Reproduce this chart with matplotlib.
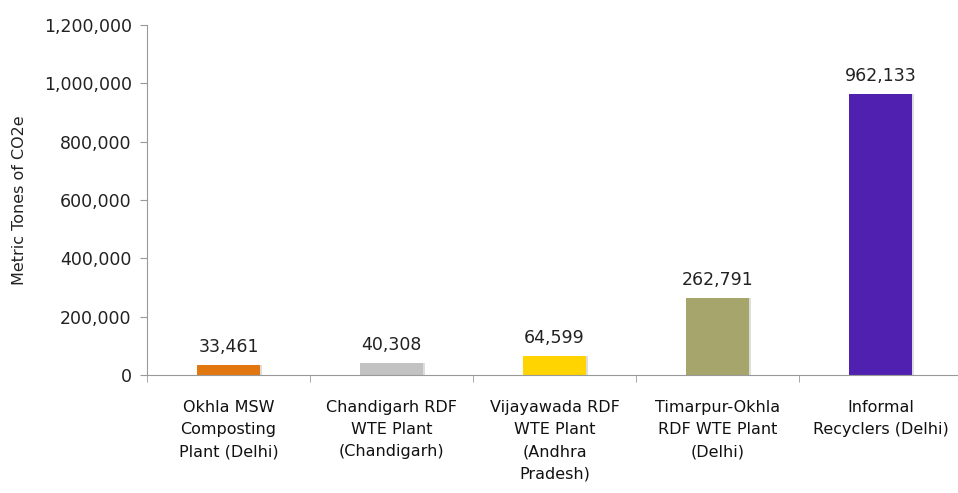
import matplotlib.pyplot as plt
from matplotlib.ticker import FuncFormatter, FixedLocator
import numpy as np

# chart data
categories = ['Okhla MSW\nComposting\nPlant (Delhi)',
              'Chandigarh RDF\nWTE Plant\n(Chandigarh)',
              'Vijayawada RDF\nWTE Plant\n(Andhra\nPradesh)',
              'Timarpur-Okhla\nRDF WTE Plant\n(Delhi)',
              'Informal\nRecyclers (Delhi)']
values = [33461, 40308, 64599, 262791, 962133]
colors = ['#E2770F', '#C2C2C2', '#FFD400', '#A6A56C', '#5021B0']

fig = plt.figure(figsize=(9.58, 4.93), dpi=100)
ax = fig.add_axes([147 / 958, 118 / 493, 815 / 958, 350 / 493])

x = np.arange(len(values))
# faint shadow behind bars
ax.bar(x + 0.012, values, width=0.39, color='#DDDDDD', zorder=1)
ax.bar(x, values, width=0.39, color=colors, zorder=2)

for xi, v in zip(x, values):
    ax.text(xi, v + 32000, f'{v:,}', ha='center', va='bottom',
            fontsize=12.5, color='#222222')

ax.set_xlim(-0.5, len(values) - 0.5)
ax.set_ylim(0, 1200000)
ax.set_yticks(np.arange(0, 1200001, 200000))
ax.yaxis.set_major_formatter(FuncFormatter(lambda v, p: f'{int(v):,}'))

ax.set_xticks(x)
ax.set_xticklabels(categories, fontsize=11.5, color='#111111', linespacing=1.6)
ax.tick_params(axis='x', length=0, pad=18)
ax.xaxis.set_minor_locator(FixedLocator(np.arange(-0.5, len(values), 1.0)))
ax.tick_params(axis='x', which='minor', length=5, color='#999999')
ax.tick_params(axis='y', length=5, color='#999999', labelsize=12.5,
               labelcolor='#222222', pad=6)

ax.set_ylabel('Metric Tones of CO2e', fontsize=11.5, color='#222222', labelpad=12)

for s in ['top', 'right']:
    ax.spines[s].set_visible(False)
for s in ['left', 'bottom']:
    ax.spines[s].set_color('#999999')

fig.savefig('out.png', dpi=100)
